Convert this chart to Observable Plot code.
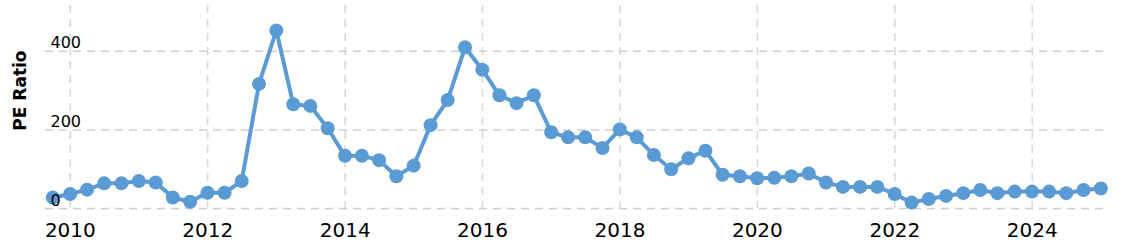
<!DOCTYPE html>
<html>
<head>
<meta charset="utf-8">
<script src="https://cdn.jsdelivr.net/npm/d3@7"></script>
<script src="https://cdn.jsdelivr.net/npm/@observablehq/plot@0.6"></script>
<style>
  html, body { margin: 0; padding: 0; background: #fff; }
  svg { display: block; }
</style>
</head>
<body>
<div id="chart"></div>
<script>
const dates = [
  "2009-09-30","2009-12-31",
  "2010-03-31","2010-06-30","2010-09-30","2010-12-31",
  "2011-03-31","2011-06-30","2011-09-30","2011-12-31",
  "2012-03-31","2012-06-30","2012-09-30","2012-12-31",
  "2013-03-31","2013-06-30","2013-09-30","2013-12-31",
  "2014-03-31","2014-06-30","2014-09-30","2014-12-31",
  "2015-03-31","2015-06-30","2015-09-30","2015-12-31",
  "2016-03-31","2016-06-30","2016-09-30","2016-12-31",
  "2017-03-31","2017-06-30","2017-09-30","2017-12-31",
  "2018-03-31","2018-06-30","2018-09-30","2018-12-31",
  "2019-03-31","2019-06-30","2019-09-30","2019-12-31",
  "2020-03-31","2020-06-30","2020-09-30","2020-12-31",
  "2021-03-31","2021-06-30","2021-09-30","2021-12-31",
  "2022-03-31","2022-06-30","2022-09-30","2022-12-31",
  "2023-03-31","2023-06-30","2023-09-30","2023-12-31",
  "2024-03-31","2024-06-30","2024-09-30","2024-12-31"
];
const peRatio = [
  28, 37,
  48, 64, 64, 70,
  66, 28, 17, 40,
  40, 70, 317, 453,
  265, 261, 204, 134,
  134, 123, 82, 109,
  212, 276, 410, 353,
  288, 268, 288, 194,
  181, 181, 154, 201,
  181, 136, 100, 128,
  147, 86, 82, 77,
  78, 82, 89, 66,
  55, 55, 55, 37,
  15, 24, 32, 39,
  47, 39, 43, 43,
  43, 39, 47, 51
];
const xTickYears = ["2010","2012","2014","2016","2018","2020","2022","2024"];
const yTicks = [0, 200, 400];
const yLabel = "PE Ratio";

const data = dates.map((d, i) => ({date: new Date(d), value: peRatio[i]}));
const xTicks = xTickYears.map(y => new Date(y + "-01-01"));

const color = "#5b9bd5";

const chart = Plot.plot({
  width: 1129,
  height: 247,
  marginLeft: 45,
  marginRight: 26,
  marginTop: 5,
  marginBottom: 39,
  style: {fontFamily: "DejaVu Sans, sans-serif", background: "#fff", color: "#000"},
  x: {type: "utc", domain: [new Date("2009-08-22"), new Date("2025-01-14")]},
  y: {domain: [0, 516.4], axis: null},
  marks: [
    Plot.gridX(xTicks, {stroke: "#d8d8d8", strokeOpacity: 1, strokeWidth: 1.5, strokeDasharray: "8,6"}),
    Plot.gridY(yTicks, {stroke: "#cfcfcf", strokeOpacity: 1, strokeWidth: 1.5, strokeDasharray: "8,6"}),
    Plot.line(data, {x: "date", y: "value", stroke: color, strokeWidth: 4}),
    Plot.dot(data, {x: "date", y: "value", r: 7, fill: color, stroke: null}),
    Plot.axisX(xTicks, {tickSize: 0, tickPadding: 14, fontSize: 20, tickFormat: d3.utcFormat("%Y"), label: null, fill: "#000"}),
    Plot.text(yTicks, {y: d => d, text: d => String(d), frameAnchor: "left", dx: 5, dy: -8, textAnchor: "start", fontSize: 16, fill: "#000"}),
    Plot.text([yLabel], {x: () => new Date("2009-04-12"), y: () => 300, text: d => d, rotate: -90, textAnchor: "middle", lineAnchor: "middle", fontSize: 17, fontWeight: "bold", fill: "#000"})
  ]
});
document.getElementById("chart").appendChild(chart);
</script>
</body>
</html>
